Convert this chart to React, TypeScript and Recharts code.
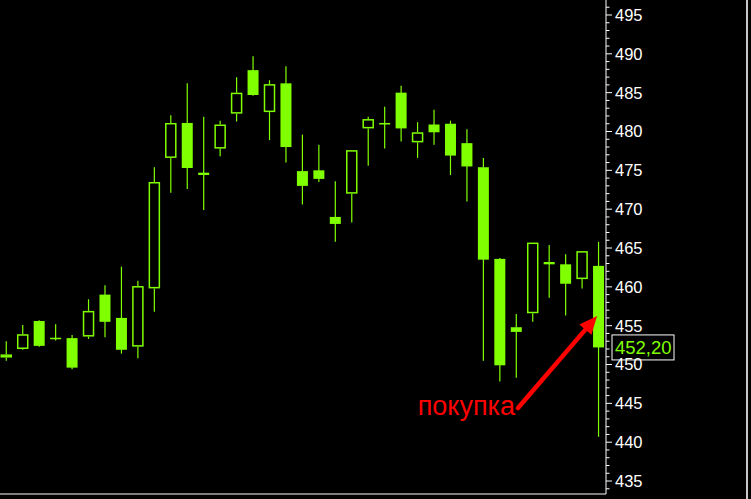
import React from 'react';
import { ComposedChart, Bar, XAxis, YAxis, ReferenceLine } from 'recharts';

const opens = [450.9, 452.0, 455.6, 453.4, 453.4, 453.6, 459.0, 456.0, 452.3, 459.8, 476.6, 481.1, 474.7, 477.8, 482.3, 487.9, 482.5, 486.2, 474.9, 475.0, 469.0, 472.0, 480.4, 481.1, 485.0, 478.6, 480.9, 481.0, 478.5, 475.4, 463.6, 454.8, 456.6, 463.2, 462.9, 461.0, 462.7];
const closes = [451.3, 453.9, 452.4, 453.3, 449.6, 456.9, 455.5, 451.9, 460.1, 473.5, 481.1, 475.3, 474.4, 480.9, 485.0, 484.7, 486.1, 478.0, 473.0, 473.9, 468.1, 477.6, 481.6, 480.9, 480.4, 479.9, 479.9, 476.9, 475.5, 463.5, 449.9, 454.2, 465.7, 462.9, 460.4, 464.6, 452.2];
const highs = [453.0, 455.1, 455.7, 455.2, 453.8, 458.4, 460.2, 462.6, 460.8, 475.4, 482.1, 486.2, 481.9, 481.4, 487.0, 489.7, 486.6, 488.4, 479.6, 478.3, 473.6, 477.6, 481.9, 483.2, 485.9, 481.2, 482.8, 481.4, 480.3, 476.6, 463.7, 456.5, 465.7, 465.4, 464.2, 464.6, 465.8];
const lows = [450.5, 451.9, 452.3, 453.1, 449.4, 453.3, 453.5, 451.4, 450.8, 456.8, 472.1, 472.6, 469.9, 476.8, 481.3, 484.6, 478.9, 476.0, 470.6, 473.5, 465.8, 468.3, 475.6, 477.8, 478.7, 476.6, 478.3, 474.4, 471.0, 450.5, 447.8, 448.3, 455.5, 458.6, 456.3, 459.8, 440.7];

const majorTicks = [435, 440, 445, 450, 455, 460, 465, 470, 475, 480, 485, 490, 495];
const minorTicks = [434, 436, 437, 438, 439, 441, 442, 443, 444, 446, 447, 448, 449, 451, 452, 453, 454, 456, 457, 458, 459, 461, 462, 463, 464, 466, 467, 468, 469, 471, 472, 473, 474, 476, 477, 478, 479, 481, 482, 483, 484, 486, 487, 488, 489, 491, 492, 493, 494, 496];
const allTicks = [...majorTicks, ...minorTicks].sort((a, b) => a - b);

const lastPrice = 452.2;
const lastPriceLabel = '452,20';
const annotationText = 'покупка';
const arrowFrom = { x: 31.12, y: 444.4 };
const arrowTo = { x: 35.93, y: 456.25 };

const data = opens.map((o, i) => ({
  i,
  open: o,
  close: closes[i],
  high: highs[i],
  low: lows[i],
  range: [lows[i], highs[i]],
}));

const GREEN = '#80ff00';
const RED = '#ff0000';

const Candle = (props: any) => {
  const { x, y, width, height, payload } = props;
  if (!payload) return null;
  const { open, close, high, low } = payload;
  const cx = x + width / 2;
  const k = height / (high - low);
  const py = (v: number) => y + (high - v) * k;
  const top = py(Math.max(open, close));
  const bot = py(Math.min(open, close));
  const up = close > open;
  if (up) {
    return (
      <g>
        <line x1={cx} x2={cx} y1={y} y2={top} stroke={GREEN} strokeWidth={1.2} />
        <line x1={cx} x2={cx} y1={bot} y2={y + height} stroke={GREEN} strokeWidth={1.2} />
        <rect x={cx - 5} y={top + 0.75} width={10} height={Math.max(bot - top - 1.5, 1)} fill="none" stroke={GREEN} strokeWidth={1.5} />
      </g>
    );
  }
  const h = Math.max(bot - top, 1.5);
  return (
    <g>
      <line x1={cx} x2={cx} y1={y} y2={y + height} stroke={GREEN} strokeWidth={1.2} />
      <rect x={cx - 5.5} y={(top + bot) / 2 - h / 2} width={11} height={h} fill={GREEN} />
    </g>
  );
};

const AxisTick = (props: any) => {
  const { x, y, payload } = props;
  const v = payload.value;
  const major = majorTicks.includes(v);
  return (
    <g>
      <line x1={x} x2={x + (major ? 6 : 3.5)} y1={y} y2={y} stroke="#ffffff" strokeWidth={1} />
      {major && (
        <text x={x + 9} y={y} dy="0.36em" fill="#ffffff" fontSize={16.5} fontFamily="'Liberation Sans', Arial, sans-serif">
          {String(v)}
        </text>
      )}
    </g>
  );
};

const PriceLabel = (props: any) => {
  const vb = props.viewBox || {};
  const x0 = vb.x + vb.width;
  const y0 = vb.y;
  return (
    <g>
      <rect x={x0 + 6} y={y0 - 12.5} width={62} height={25} fill="#000" stroke="#ffffff" strokeWidth={1} />
      <text x={x0 + 9} y={y0} dy="0.36em" fill={GREEN} fontSize={18.5} fontFamily="'Liberation Sans', Arial, sans-serif">
        {lastPriceLabel}
      </text>
    </g>
  );
};

const ArrowShape = (props: any) => {
  const { x1, y1, x2, y2 } = props;
  if (x1 == null) return null;
  const dx = x2 - x1;
  const dy = y2 - y1;
  const len = Math.sqrt(dx * dx + dy * dy);
  const ux = dx / len;
  const uy = dy / len;
  const nx = -uy;
  const ny = ux;
  const headLen = 18;
  const headW = 8;
  const bx = x2 - ux * headLen;
  const by = y2 - uy * headLen;
  const pts = `${x2},${y2} ${bx + nx * headW},${by + ny * headW} ${bx - nx * headW},${by - ny * headW}`;
  return (
    <g>
      <line x1={x1} y1={y1} x2={bx + ux * 2} y2={by + uy * 2} stroke={RED} strokeWidth={4.5} strokeLinecap="round" />
      <polygon points={pts} fill={RED} />
      <text x={x1 - 3} y={y1 + 7} textAnchor="end" fill={RED} fontSize={27} fontFamily="'Liberation Sans', Arial, sans-serif">
        {annotationText}
      </text>
    </g>
  );
};

export default function App() {
  return (
    <div style={{ position: 'absolute', left: 0, top: 0, width: 751, height: 499, background: '#000', overflow: 'hidden' }}>
      <ComposedChart width={751} height={499} data={data} margin={{ top: 0, right: 0, bottom: 0, left: 0 }}>
        <XAxis
          dataKey="i"
          type="number"
          domain={[-0.365, 36.47]}
          allowDataOverflow
          tick={false}
          tickLine={false}
          axisLine={{ stroke: '#ffffff' }}
          height={5}
        />
        <YAxis
          orientation="right"
          type="number"
          domain={[433.33, 496.93]}
          allowDataOverflow
          ticks={allTicks}
          interval={0}
          tick={<AxisTick />}
          tickLine={false}
          tickSize={0}
          tickMargin={0}
          axisLine={{ stroke: '#ffffff' }}
          width={145}
        />
        <Bar dataKey="range" shape={Candle} barSize={11} isAnimationActive={false} />
        <ReferenceLine y={lastPrice} stroke="none" ifOverflow="visible" label={(p: any) => <PriceLabel {...p} />} />
        <ReferenceLine segment={[arrowFrom, arrowTo]} ifOverflow="visible" shape={ArrowShape} />
      </ComposedChart>
      <div style={{ position: 'absolute', left: 746, top: 0, width: 2, height: 499, background: '#c8c8c8' }} />
    </div>
  );
}
